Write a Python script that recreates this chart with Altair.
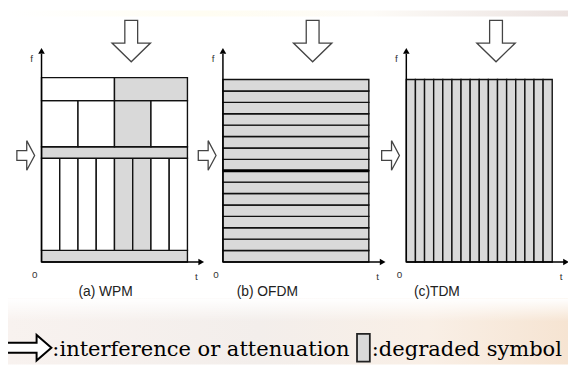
import altair as alt
import pandas as pd

# ---------------- data (diagram structure) ----------------
wpm_row_heights = [1, 8, 1, 4, 2]
wpm_row_slots = [1, 8, 1, 4, 2]
wpm_degraded = [[1], [0, 0, 0, 0, 1, 1, 0, 0], [1], [0, 0, 1, 0], [0, 1]]
ofdm_subcarriers = 16
ofdm_degraded = [1] * 16
tdm_slots = 16
tdm_degraded = [1] * 16

panel_labels = ["(a) WPM", "(b) OFDM", "(c)TDM"]
axis_labels = ["f", "0", "t"]
legend_texts = [":interference or attenuation", ":degraded symbol"]

# ---------------- layout ----------------
PAGE_W, PAGE_H, MARGIN = 576, 367, 8
panel_left = [42, 226, 412]
panel_top = [76, 78, 78]
panel_bottom = 263
panel_w = 148
label_cx = [107, 271, 443]

GREY = "#d9d9d9"
SANS = "Liberation Sans"
SERIF = "DejaVu Serif"


def cells_for(panel):
    rows = []
    if panel == 0:
        total = sum(wpm_row_heights)
        cum = 0
        for h, n, deg in zip(wpm_row_heights, wpm_row_slots, wpm_degraded):
            for j in range(n):
                rows.append((j / n, (j + 1) / n, cum / total, (cum + h) / total, deg[j]))
            cum += h
    elif panel == 1:
        for i in range(ofdm_subcarriers):
            rows.append((0, 1, i / ofdm_subcarriers, (i + 1) / ofdm_subcarriers, ofdm_degraded[i]))
    else:
        for j in range(tdm_slots):
            rows.append((j / tdm_slots, (j + 1) / tdm_slots, 0, 1, tdm_degraded[j]))
    out = []
    L, T = panel_left[panel], panel_top[panel]
    for t0, t1, f0, f1, d in rows:
        out.append(dict(x=L + t0 * panel_w, x2=L + t1 * panel_w,
                        y=panel_bottom - f0 * (panel_bottom - T),
                        y2=panel_bottom - f1 * (panel_bottom - T),
                        deg=d, panel=panel))
    return out


cells = pd.DataFrame(sum([cells_for(p) for p in range(3)], []))

axes_rows = []
heads = []
for p in range(3):
    L = panel_left[p]
    axes_rows.append(dict(x=L, x2=L, y=panel_bottom, y2=52))
    axes_rows.append(dict(x=L, x2=L + 160, y=panel_bottom, y2=panel_bottom))
    heads.append(dict(x=L, y=49, shape="triangle-up"))
    heads.append(dict(x=L + 162, y=panel_bottom, shape="triangle-right"))
axes_df = pd.DataFrame(axes_rows)
heads_df = pd.DataFrame(heads)

ofdm_mid = pd.DataFrame([dict(x=panel_left[1], x2=panel_left[1] + panel_w,
                              y=panel_bottom - 0.5 * (panel_bottom - panel_top[1]))])

poly = []
for p in range(3):
    L = panel_left[p]
    cx, y0 = L + 91, 18
    pts = [(cx - 6.5, y0), (cx + 6.5, y0), (cx + 6.5, 41), (cx + 19.5, 41), (cx, 60),
           (cx - 19.5, 41), (cx - 6.5, 41)]
    for i, (x, y) in enumerate(pts):
        poly.append(dict(x=x, y=y, g=f"d{p}", o=i))
    cy = 155
    pts = [(L - 25, cy - 5), (L - 15, cy - 5), (L - 15, cy - 15), (L - 7, cy),
           (L - 15, cy + 15), (L - 15, cy + 5), (L - 25, cy + 5)]
    for i, (x, y) in enumerate(pts):
        poly.append(dict(x=x, y=y, g=f"l{p}", o=i))
poly_df = pd.DataFrame(poly)

leg_pts = [(6, 345), (37, 345), (37, 337), (52, 350), (37, 363), (37, 355), (6, 355)]
leg_arrow = pd.DataFrame([dict(x=x, y=y, g="leg", o=i) for i, (x, y) in enumerate(leg_pts)])
leg_rect = pd.DataFrame([dict(x=362, x2=375, y=336, y2=364)])
leg_text = pd.DataFrame([dict(x=53, y=358, text=legend_texts[0]),
                         dict(x=377, y=358, text=legend_texts[1])])

small_labels = []
for p in range(3):
    L = panel_left[p]
    small_labels.append(dict(x=L - 10, y=57, text=axis_labels[0]))
    small_labels.append(dict(x=L - 7, y=276, text=axis_labels[1]))
    small_labels.append(dict(x=L + 157, y=278, text=axis_labels[2]))
small_df = pd.DataFrame(small_labels)
title_df = pd.DataFrame([dict(x=label_cx[p], y=294, text=panel_labels[p]) for p in range(3)])

bg_df = pd.DataFrame([dict(x=MARGIN, x2=PAGE_W, y=300, y2=PAGE_H)])
top_bg = pd.DataFrame([dict(x=MARGIN, x2=PAGE_W, y=MARGIN, y2=14)])

xs = alt.Scale(domain=[MARGIN, PAGE_W], nice=False, zero=False)
ys = alt.Scale(domain=[MARGIN, PAGE_H], nice=False, zero=False, reverse=True)


def X(f="x"):
    return alt.X(f"{f}:Q", scale=xs, axis=None)


def Y(f="y"):
    return alt.Y(f"{f}:Q", scale=ys, axis=None)


bottom_bg = alt.Chart(bg_df).mark_rect(
    fill=alt.Gradient(gradient="linear", x1=0, x2=1, y1=0, y2=0,
                      stops=[alt.GradientStop(color="#f8f2ef", offset=0),
                             alt.GradientStop(color="#f3eeeb", offset=0.45),
                             alt.GradientStop(color="#f9efe6", offset=0.75),
                             alt.GradientStop(color="#f6e4d2", offset=1)])
).encode(x=X(), x2="x2", y=Y(), y2="y2")

bottom_fade = alt.Chart(bg_df).mark_rect(
    fill=alt.Gradient(gradient="linear", x1=0, x2=0, y1=0, y2=1,
                      stops=[alt.GradientStop(color="#ffffff", offset=0),
                             alt.GradientStop(color="rgba(255,255,255,0)", offset=0.35)])
).encode(x=X(), x2="x2", y=Y(), y2="y2")

top_band = alt.Chart(top_bg).mark_rect(
    fill=alt.Gradient(gradient="linear", x1=0, x2=1, y1=0, y2=0,
                      stops=[alt.GradientStop(color="#ffffff", offset=0),
                             alt.GradientStop(color="#fffdf2", offset=0.35),
                             alt.GradientStop(color="#fdfbf7", offset=0.65),
                             alt.GradientStop(color="#ebe2e0", offset=1)])
).encode(x=X(), x2="x2", y=Y(), y2="y2")

cell_layer = alt.Chart(cells).mark_rect(stroke="#111111", strokeWidth=1.4).encode(
    x=X(), x2="x2", y=Y(), y2="y2",
    fill=alt.Fill("deg:N", scale=alt.Scale(domain=[0, 1], range=["#ffffff", GREY]), legend=None),
)

mid_layer = alt.Chart(ofdm_mid).mark_rule(color="#000000", strokeWidth=3).encode(
    x=X(), x2="x2", y=Y())

axes_layer = alt.Chart(axes_df).mark_rule(color="#000000", strokeWidth=1.5).encode(
    x=X(), x2="x2", y=Y(), y2="y2")

heads_layer = alt.Chart(heads_df).mark_point(filled=True, color="#000000", opacity=1, size=45).encode(
    x=X(), y=Y(), shape=alt.Shape("shape:N", scale=None))

arrow_layer = alt.Chart(poly_df).mark_line(
    interpolate="linear-closed", stroke="#444444", strokeWidth=1.3, fill="#ffffff"
).encode(x=X(), y=Y(), detail="g:N", order="o:Q")

leg_arrow_layer = alt.Chart(leg_arrow).mark_line(
    interpolate="linear-closed", stroke="#000000", strokeWidth=2, fill="#ffffff"
).encode(x=X(), y=Y(), detail="g:N", order="o:Q")

leg_rect_layer = alt.Chart(leg_rect).mark_rect(fill=GREY, stroke="#222222", strokeWidth=1.8).encode(
    x=X(), x2="x2", y=Y(), y2="y2")

leg_text_layer = alt.Chart(leg_text).mark_text(
    font=SERIF, fontSize=21.3, align="left", baseline="alphabetic", color="#000000"
).encode(x=X(), y=Y(), text="text:N")

small_layer = alt.Chart(small_df).mark_text(
    font=SANS, fontSize=10, align="center", baseline="middle", color="#333333"
).encode(x=X(), y=Y(), text="text:N")

title_layer = alt.Chart(title_df).mark_text(
    font=SANS, fontSize=14, align="center", baseline="middle", color="#222222"
).encode(x=X(), y=Y(), text="text:N")

chart = alt.layer(
    bottom_bg, bottom_fade, top_band, cell_layer, mid_layer, axes_layer, heads_layer, arrow_layer,
    leg_arrow_layer, leg_rect_layer, leg_text_layer, small_layer, title_layer
).properties(
    width=PAGE_W - MARGIN, height=PAGE_H - MARGIN, padding=0,
    autosize=alt.AutoSizeParams(type="none"), background="#ffffff"
).configure_view(stroke=None)

chart.save("out.html", embed_options={"renderer": "svg", "actions": False})
